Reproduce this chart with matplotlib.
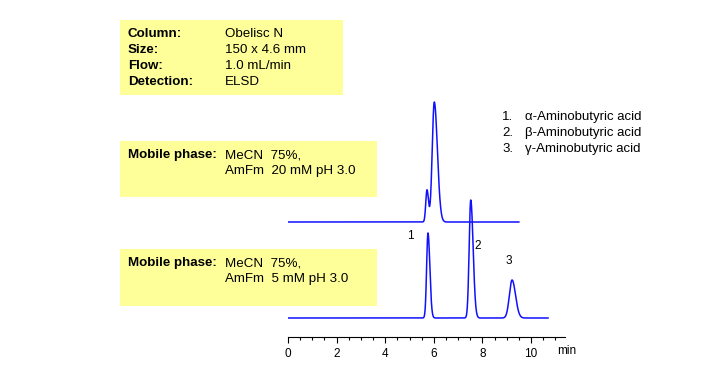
import matplotlib
matplotlib.use("Agg")
import matplotlib.pyplot as plt
from matplotlib.patches import Rectangle
from matplotlib.ticker import MultipleLocator
import numpy as np

plt.rcParams['font.family'] = ['Liberation Sans', 'DejaVu Sans']

W, H = 704, 389

# peak tables: retention time (min), height, width (min), tailing
low_rt = [5.76, 7.52, 9.22]
low_h = [85, 118, 38]
low_w = [0.055, 0.065, 0.11]
low_tail = [1.4, 1.5, 1.3]
low_end = 10.7

up_rt = [5.72, 6.02]
up_h = [32, 120]
up_w = [0.05, 0.085]
up_tail = [1.2, 1.5]
up_end = 9.5
up_offset = 96

peak_labels = ['1', '2', '3']
label_pos = [(5.05, 82), (7.8, 72), (9.1, 57)]

compounds = ['α-Aminobutyric acid', 'β-Aminobutyric acid', 'γ-Aminobutyric acid']
info_keys = ['Column:', 'Size:', 'Flow:', 'Detection:']
info_vals = ['Obelisc N', '150 x 4.6 mm', '1.0 mL/min', 'ELSD']
phase_20 = ['MeCN  75%,', 'AmFm  20 mM pH 3.0']
phase_5 = ['MeCN  75%,', 'AmFm  5 mM pH 3.0']


def trace(t, rt, h, w, tail):
    y = np.zeros_like(t)
    for r, hh, ww, tf in zip(rt, h, w, tail):
        s = np.where(t < r, ww, ww * tf)
        y += hh * np.exp(-0.5 * ((t - r) / s) ** 2)
    return y


def px(x, y):
    return x / W, 1 - y / H


fig = plt.figure(figsize=(W / 100, H / 100), dpi=100)

# yellow info boxes
for (x0, y0, x1, y1) in [(120, 20, 343, 95), (120, 141, 377, 197), (120, 249, 377, 306)]:
    fig.patches.append(Rectangle(px(x0, y1), (x1 - x0) / W, (y1 - y0) / H,
                                 transform=fig.transFigure, facecolor='#ffff99',
                                 edgecolor='none', zorder=0))

fs = 9.6
for i, (k, v) in enumerate(zip(info_keys, info_vals)):
    fig.text(*px(128, 34 + 16 * i), k, fontsize=fs, fontweight='bold', va='center')
    fig.text(*px(225, 34 + 16 * i), v, fontsize=fs, va='center')

for y0, lines in [(155, phase_20), (263, phase_5)]:
    fig.text(*px(128, y0), 'Mobile phase:', fontsize=fs, fontweight='bold', va='center')
    for j, ln in enumerate(lines):
        fig.text(*px(225, y0 + 16 * j), ln, fontsize=fs, va='center')

for i, c in enumerate(compounds):
    fig.text(*px(502, 117 + 16 * i), f'{i + 1}.', fontsize=9.5, va='center')
    fig.text(*px(525, 117 + 16 * i), c, fontsize=9.5, va='center')

# chromatogram axes
x_left, x_right, y_axis, y_top = 288, 565, 337, 95
ax = fig.add_axes([x_left / W, 1 - y_axis / H, (x_right - x_left) / W, (y_axis - y_top) / H])
ax.set_xlim(0, (x_right - x_left) / 24.3)
ax.set_ylim(-19, 337 - 95 - 19)
ax.patch.set_alpha(0)
for s in ['top', 'right', 'left']:
    ax.spines[s].set_visible(False)
ax.spines['bottom'].set_linewidth(0.8)
ax.set_yticks([])
ax.xaxis.set_major_locator(MultipleLocator(2))
ax.xaxis.set_minor_locator(MultipleLocator(0.5))
ax.tick_params(axis='x', which='major', length=4, width=0.8, labelsize=8.5, pad=4)
ax.tick_params(axis='x', which='minor', length=2, width=0.8)
ax.set_xticks(np.arange(0, 11, 2))

t_low = np.linspace(0, low_end, 2000)
t_up = np.linspace(0, up_end, 2000)
ax.plot(t_up, up_offset + trace(t_up, up_rt, up_h, up_w, up_tail), color='#1010ff', lw=1.1)
ax.plot(t_low, trace(t_low, low_rt, low_h, low_w, low_tail), color='#1010ff', lw=1.1)

for lab, (lx, ly) in zip(peak_labels, label_pos):
    ax.text(lx, ly, lab, fontsize=8.5, ha='center', va='center')

fig.text(*px(567, 351), 'min', fontsize=8.5, va='center', ha='center')

fig.savefig('out.png', dpi=100)
